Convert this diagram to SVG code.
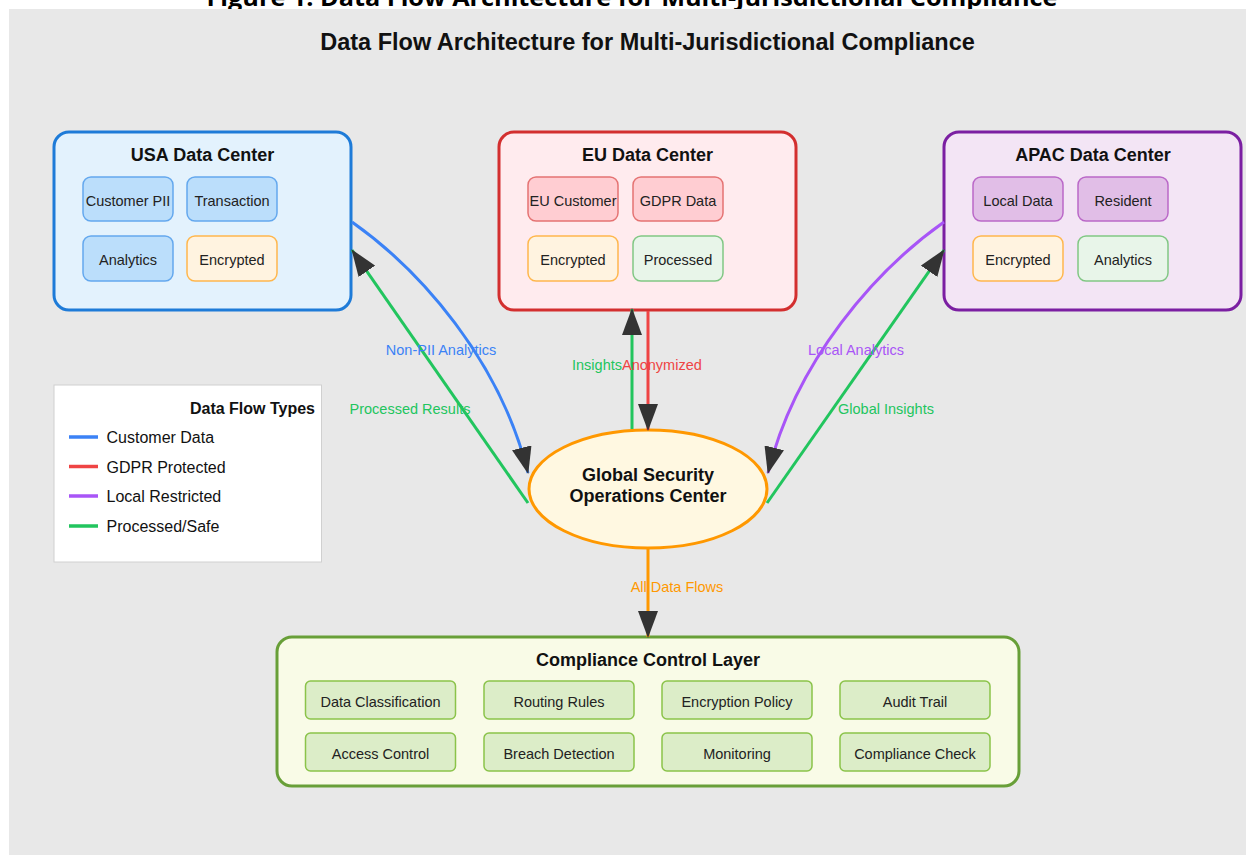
<svg xmlns="http://www.w3.org/2000/svg" width="1246" height="855" viewBox="0 0 1246 855">
<defs>
<style>
.t{font-family:"Liberation Sans",Arial,sans-serif;}
.title{font-family:"Liberation Sans",Arial,sans-serif;font-weight:bold;font-size:23.5px;fill:#111;text-anchor:middle;}
.cap{font-family:"Open Sans","Noto Sans",sans-serif;font-weight:bold;font-size:24px;fill:#000;text-anchor:middle;}
.ntitle{font-family:"Liberation Sans",Arial,sans-serif;font-weight:bold;font-size:18px;fill:#111;text-anchor:middle;}
.sub{font-family:"Liberation Sans",Arial,sans-serif;font-size:14.5px;fill:#222;text-anchor:middle;}
.lbl{font-family:"Liberation Sans",Arial,sans-serif;font-size:14.5px;}
.leg{font-family:"Liberation Sans",Arial,sans-serif;font-size:16px;fill:#111;}
.big{stroke-width:3;}
.sb{stroke-width:1.5;}
.blueS{fill:#bbdefb;stroke:#64a8ee;}
.redS{fill:#ffcdd2;stroke:#e57373;}
.purS{fill:#e1bee7;stroke:#ba68c8;}
.oraS{fill:#fff3e0;stroke:#ffb74d;}
.grnS{fill:#e8f5e9;stroke:#81c784;}
.cItem{fill:#dcedc8;stroke:#8bc34a;stroke-width:1.5;}
.conn{fill:none;stroke-width:3;}
</style>
<marker id="ah" markerUnits="userSpaceOnUse" markerWidth="27" markerHeight="20" viewBox="0 0 27 20" refX="26" refY="10" orient="auto">
<path d="M0,0 L27,10 L0,20 z" fill="#333"/>
</marker>
</defs>

<rect x="0" y="0" width="1246" height="855" fill="#ffffff"/>
<text class="cap" x="632" y="6" textLength="851" lengthAdjust="spacingAndGlyphs">Figure 1: Data Flow Architecture for Multi-Jurisdictional Compliance</text>
<rect x="9" y="9" width="1237" height="846" fill="#e8e8e8"/>

<text class="title" x="647.5" y="50">Data Flow Architecture for Multi-Jurisdictional Compliance</text>

<g id="usa">
<rect x="54" y="132" width="297" height="178" rx="15" fill="#e3f2fd" stroke="#1e7bd8" class="big"/>
<text class="ntitle" x="202.5" y="161">USA Data Center</text>
<rect x="83" y="177" width="90" height="44" rx="8" class="blueS sb"/>
<text class="sub" x="128" y="206">Customer PII</text>
<rect x="187" y="177" width="90" height="44" rx="8" class="blueS sb"/>
<text class="sub" x="232" y="206">Transaction</text>
<rect x="83" y="236" width="90" height="45" rx="8" class="blueS sb"/>
<text class="sub" x="128" y="265">Analytics</text>
<rect x="187" y="236" width="90" height="45" rx="8" class="oraS sb"/>
<text class="sub" x="232" y="265">Encrypted</text>
</g>

<g id="eu">
<rect x="499" y="132" width="297" height="178" rx="15" fill="#ffebee" stroke="#d32f2f" class="big"/>
<text class="ntitle" x="647.5" y="161">EU Data Center</text>
<rect x="528" y="177" width="90" height="44" rx="8" class="redS sb"/>
<text class="sub" x="573" y="206">EU Customer</text>
<rect x="633" y="177" width="90" height="44" rx="8" class="redS sb"/>
<text class="sub" x="678" y="206">GDPR Data</text>
<rect x="528" y="236" width="90" height="45" rx="8" class="oraS sb"/>
<text class="sub" x="573" y="265">Encrypted</text>
<rect x="633" y="236" width="90" height="45" rx="8" class="grnS sb"/>
<text class="sub" x="678" y="265">Processed</text>
</g>

<g id="apac">
<rect x="944" y="132" width="297" height="178" rx="15" fill="#f3e5f5" stroke="#7b1fa2" class="big"/>
<text class="ntitle" x="1093" y="161">APAC Data Center</text>
<rect x="973" y="177" width="90" height="44" rx="8" class="purS sb"/>
<text class="sub" x="1018" y="206">Local Data</text>
<rect x="1078" y="177" width="90" height="44" rx="8" class="purS sb"/>
<text class="sub" x="1123" y="206">Resident</text>
<rect x="973" y="236" width="90" height="45" rx="8" class="oraS sb"/>
<text class="sub" x="1018" y="265">Encrypted</text>
<rect x="1078" y="236" width="90" height="45" rx="8" class="grnS sb"/>
<text class="sub" x="1123" y="265">Analytics</text>
</g>

<g id="gsoc">
<ellipse cx="648" cy="489" rx="119" ry="59" fill="#fff8e1" stroke="#ff9800" stroke-width="3"/>
<text class="ntitle" x="648" y="481">Global Security</text>
<text class="ntitle" x="648" y="502">Operations Center</text>
</g>

<g id="compliance">
<rect x="277" y="637" width="742" height="149" rx="15" fill="#f9fbe7" stroke="#689f38" class="big"/>
<text class="ntitle" x="648" y="666">Compliance Control Layer</text>
<rect x="305.5" y="681" width="150" height="38" rx="5" class="cItem"/>
<text class="sub" x="380.5" y="707">Data Classification</text>
<rect x="484" y="681" width="150" height="38" rx="5" class="cItem"/>
<text class="sub" x="559" y="707">Routing Rules</text>
<rect x="662" y="681" width="150" height="38" rx="5" class="cItem"/>
<text class="sub" x="737" y="707">Encryption Policy</text>
<rect x="840" y="681" width="150" height="38" rx="5" class="cItem"/>
<text class="sub" x="915" y="707">Audit Trail</text>
<rect x="305.5" y="733" width="150" height="38" rx="5" class="cItem"/>
<text class="sub" x="380.5" y="759">Access Control</text>
<rect x="484" y="733" width="150" height="38" rx="5" class="cItem"/>
<text class="sub" x="559" y="759">Breach Detection</text>
<rect x="662" y="733" width="150" height="38" rx="5" class="cItem"/>
<text class="sub" x="737" y="759">Monitoring</text>
<rect x="840" y="733" width="150" height="38" rx="5" class="cItem"/>
<text class="sub" x="915" y="759">Compliance Check</text>
</g>

<g id="legend">
<rect x="54" y="385" width="267.5" height="177" fill="#ffffff" stroke="#d0d0d0" stroke-width="1"/>
<text class="leg" x="315" y="414" text-anchor="end" font-weight="bold" font-size="15">Data Flow Types</text>
<line x1="69" y1="437" x2="98" y2="437" stroke="#3b82f6" stroke-width="3.5"/>
<text class="leg" x="106.5" y="443">Customer Data</text>
<line x1="69" y1="466.5" x2="98" y2="466.5" stroke="#ef4444" stroke-width="3.5"/>
<text class="leg" x="106.5" y="472.5">GDPR Protected</text>
<line x1="69" y1="496" x2="98" y2="496" stroke="#a855f7" stroke-width="3.5"/>
<text class="leg" x="106.5" y="502">Local Restricted</text>
<line x1="69" y1="526" x2="98" y2="526" stroke="#22c55e" stroke-width="3.5"/>
<text class="leg" x="106.5" y="532">Processed/Safe</text>
</g>

<g id="connectors">
<path class="conn" d="M352,222 C420,270 500,360 528,473" stroke="#3b82f6" marker-end="url(#ah)"/>
<path class="conn" d="M528,503 L352,250" stroke="#22c55e" marker-end="url(#ah)"/>
<path class="conn" d="M944,222 C876,270 796,360 768,473" stroke="#a855f7" marker-end="url(#ah)"/>
<path class="conn" d="M767,503 L944,250" stroke="#22c55e" marker-end="url(#ah)"/>
<path class="conn" d="M648,311 L648,430" stroke="#ef4444" marker-end="url(#ah)"/>
<path class="conn" d="M632,429 L632,309" stroke="#22c55e" marker-end="url(#ah)"/>
<path class="conn" d="M648,549 L648,637" stroke="#ff9800" marker-end="url(#ah)"/>
<text class="lbl" x="441" y="355" text-anchor="middle" fill="#3b82f6">Non-PII Analytics</text>
<text class="lbl" x="410" y="414" text-anchor="middle" fill="#22c55e">Processed Results</text>
<text class="lbl" x="856" y="355" text-anchor="middle" fill="#a855f7">Local Analytics</text>
<text class="lbl" x="886" y="414" text-anchor="middle" fill="#22c55e">Global Insights</text>
<text class="lbl" x="622" y="370" text-anchor="end" fill="#22c55e">Insights</text>
<text class="lbl" x="622" y="370" text-anchor="start" fill="#ef4444">Anonymized</text>
<text class="lbl" x="677" y="592" text-anchor="middle" fill="#ff9800">All Data Flows</text>
</g>
</svg>
